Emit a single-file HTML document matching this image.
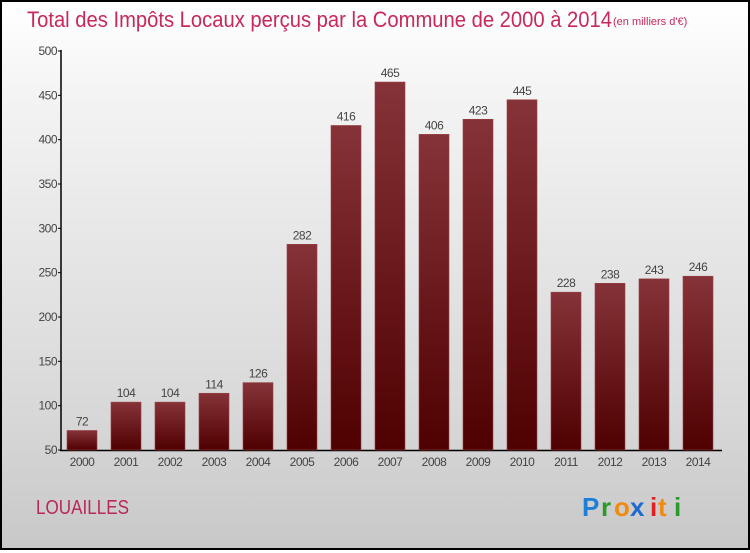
<!DOCTYPE html>
<html><head><meta charset="utf-8"><style>
html,body{margin:0;padding:0}
body{width:750px;height:550px;overflow:hidden;font-family:"Liberation Sans",sans-serif}
#wrap{position:absolute;left:0;top:0;width:746px;height:546px;border:2px solid #000;background:linear-gradient(#fff,#f2f2f2 20%,#d8d8d8 75%,#c8c8c8)}
</style></head><body>
<div id="wrap">
<svg width="746" height="546" viewBox="2 2 746 546" id="svg">
<defs><linearGradient id="bg" x1="0" y1="0" x2="0" y2="1"><stop offset="0" stop-color="#853338"/><stop offset="1" stop-color="#4f0000"/></linearGradient></defs>
<text x="27" y="27" font-size="22" fill="#c8285a" textLength="585" lengthAdjust="spacingAndGlyphs">Total des Impôts Locaux perçus par la Commune de 2000 à 2014</text>
<text x="613" y="25" font-size="11" fill="#c8285a">(en milliers d'€)</text>
<text x="36" y="514" font-size="20" fill="#b8285a" textLength="93" lengthAdjust="spacingAndGlyphs">LOUAILLES</text>
<g font-size="26" font-weight="bold" font-family="'Liberation Sans',sans-serif">
<text x="582" y="516" fill="#1e7fd8">P</text><text x="601" y="516" fill="#2a9a2a">r</text><text x="614" y="516" fill="#f08a10">o</text><text x="630" y="516" fill="#1e6ad0">x</text><text x="650" y="516" fill="#e02020">i</text><text x="658" y="516" fill="#f08a10">t</text><text x="674" y="516" fill="#2a9a2a">i</text>
</g>
<g id="axes"></g><g id="bars"></g>
</svg></div>
<script>
const years=["2000","2001","2002","2003","2004","2005","2006","2007","2008","2009","2010","2011","2012","2013","2014"];
const values=[72,104,104,114,126,282,416,465,406,423,445,228,238,243,246];
const ticks=[50,100,150,200,250,300,350,400,450,500];
const NS="http://www.w3.org/2000/svg";
const y0=450,y1=51,vmin=50,vmax=500;
function ys(v){return y0-(v-vmin)/(vmax-vmin)*(y0-y1);}
function xc(i){return 82+i*44;}
function mk(t,a,p){const e=document.createElementNS(NS,t);for(const k in a)e.setAttribute(k,a[k]);p.appendChild(e);return e;}
const ax=document.getElementById('axes'),bg=document.getElementById('bars');
const yl=mk('line',{x1:61,y1:50,x2:61,y2:451,stroke:'#000','stroke-width':1.5},ax);


const xl=mk('line',{x1:60,y1:450.5,x2:722,y2:450.5,stroke:'#000','stroke-width':1.5},ax);


ticks.forEach(t=>{
 mk('line',{x1:58,x2:61,y1:ys(t),y2:ys(t),stroke:'#000'},ax);
 const tx=mk('text',{x:57,y:ys(t)+4,'font-size':12,fill:'#444','text-anchor':'end','letter-spacing':'-0.5'},ax);
 tx.textContent=t;
 
 
});
years.forEach((yr,i)=>{
 const top=ys(values[i]);
 const r=mk('rect',{x:xc(i)-15,y:top,width:30,height:y0-top,fill:'url(#bg)',stroke:'#9a4045','stroke-width':0.6},bg);
 
 
 const v=mk('text',{x:xc(i),y:top-5,'font-size':12,fill:'#444','text-anchor':'middle','letter-spacing':'-0.5'},bg);
 v.textContent=values[i];
 
 
 const l=mk('text',{x:xc(i),y:466,'font-size':12,fill:'#444','text-anchor':'middle','letter-spacing':'-0.5'},ax);
 l.textContent=yr;
 
 
});
</script>
</body></html>
